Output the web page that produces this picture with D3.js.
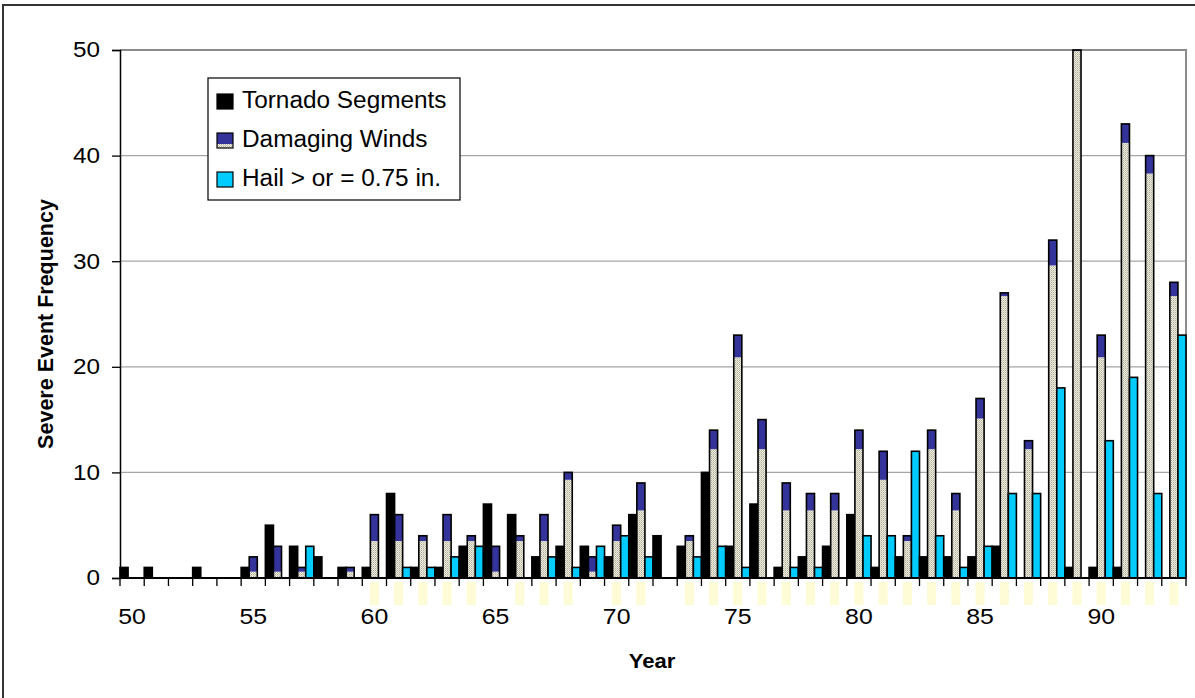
<!DOCTYPE html>
<html><head><meta charset="utf-8">
<script src="https://cdn.jsdelivr.net/npm/d3@7"></script>
<style>body{margin:0;background:#fff;overflow:hidden} text{font-family:"Liberation Sans",Arial,sans-serif;fill:#000}</style>
</head><body><svg id="c" width="1195" height="698"></svg>
<script>
const years = [1950,1951,1952,1953,1954,1955,1956,1957,1958,1959,
               1960,1961,1962,1963,1964,1965,1966,1967,1968,1969,
               1970,1971,1972,1973,1974,1975,1976,1977,1978,1979,
               1980,1981,1982,1983,1984,1985,1986,1987,1988,1989,
               1990,1991,1992,1993];
const tickYears = [1950,1955,1960,1965,1970,1975,1980,1985,1990];
const tickLabels = ["50","55","60","65","70","75","80","85","90"];
const tornado = [1,1,0,1,0,1,5,3,2,1, 1,8,1,1,3,7,6,2,3,3, 2,6,4,3,10,3,7,1,2,3, 6,1,2,2,2,2,3,0,0,1, 1,1,0,0];
const winds   = [0,0,0,0,0,2,3,1,0,1, 6,6,4,6,4,3,4,6,10,2, 5,9,0,4,14,23,15,9,8,8, 14,12,4,14,8,17,27,13,32,50, 23,43,40,28];
const hail    = [0,0,0,0,0,0,0,3,0,0, 0,1,1,2,3,0,0,2,1,3, 4,2,0,2,3,1,0,1,1,0, 4,4,12,4,1,3,8,8,18,0, 13,19,8,23];
const yTicks = [0,10,20,30,40,50];
const seriesNames = ["Tornado Segments","Damaging Winds","Hail > or = 0.75 in."];
const yTitle = "Severe Event Frequency";
const xTitle = "Year";

const C_T = "#000000", C_W = "#333399", C_H = "#00CCFF";
const SX = 1.13; // horizontal stretch of the original text rendering
const svg = d3.select("#c");

function stretch(sel, sx) {
  sel.each(function(){
    const t = d3.select(this);
    const xv = +(t.attr("x") || 0);
    t.attr("x", xv/sx).attr("transform", `scale(${sx},1)`);
  });
}

const defs = svg.append("defs");
const pat = defs.append("pattern").attr("id","dither").attr("patternUnits","userSpaceOnUse")
  .attr("width",2).attr("height",2);
pat.append("rect").attr("width",2).attr("height",2).attr("fill","#f2efd9");
pat.append("rect").attr("x",1).attr("y",0).attr("width",1).attr("height",1).attr("fill","#a9a9a9");
pat.append("rect").attr("x",0).attr("y",1).attr("width",1).attr("height",1).attr("fill","#c9c7b6");

// outer frame
svg.append("rect").attr("x",3).attr("y",5).attr("width",1210).attr("height",720)
  .attr("fill","none").attr("stroke","#333").attr("stroke-width",2);

const x = d3.scaleBand().domain(years).range([120,1186]).padding(0);
const y = d3.scaleLinear().domain([0,50]).range([578,50]);
const sub = d3.scaleBand().domain([0,1,2]).range([0,x.bandwidth()]);

// gridlines
svg.append("g").selectAll("line").data(yTicks.filter(t=>t>0 && t<50)).join("line")
  .attr("x1",120).attr("x2",1186).attr("y1",d=>y(d)).attr("y2",d=>y(d))
  .attr("stroke","#a6a6a6").attr("stroke-width",1.3);
svg.append("path").attr("d",`M120,${y(50)}H1186V${y(0)}`).attr("fill","none")
  .attr("stroke","#8c8c8c").attr("stroke-width",2);

// pale artefact rectangles under axis for wind bars
svg.append("g").selectAll("rect").data(years.filter((d,i)=>winds[i]>=4)).join("rect")
  .attr("x",d=>x(d)+sub(1)-0.5).attr("width",sub.bandwidth()+1)
  .attr("y",582).attr("height",23).attr("fill","#fdfcd6");

// bars
const g = svg.append("g");
years.forEach((yr,i)=>{
  const x0 = x(yr);
  if (tornado[i]>0) g.append("rect").attr("x",x0+sub(0)).attr("width",sub.bandwidth())
      .attr("y",y(tornado[i])).attr("height",y(0)-y(tornado[i])).attr("fill",C_T).attr("stroke","#000").attr("stroke-width",1.6);
  if (winds[i]>0) {
    const v = winds[i];
    const L = v>=0.6 ? Math.floor((v-0.6)/2.9)*2.9+0.6 : 0;
    const xs = x0+sub(1), w = sub.bandwidth();
    g.append("rect").attr("x",xs).attr("width",w).attr("y",y(L)).attr("height",y(0)-y(L)).attr("fill","url(#dither)");
    g.append("rect").attr("x",xs).attr("width",w).attr("y",y(v)).attr("height",y(L)-y(v)).attr("fill",C_W);
    g.append("rect").attr("x",xs).attr("width",w).attr("y",y(v)).attr("height",y(0)-y(v))
      .attr("fill","none").attr("stroke","#000").attr("stroke-width",1.6);
  }
  if (hail[i]>0) g.append("rect").attr("x",x0+sub(2)).attr("width",sub.bandwidth())
      .attr("y",y(hail[i])).attr("height",y(0)-y(hail[i])).attr("fill",C_H).attr("stroke","#000").attr("stroke-width",1.6);
});

// y axis
const ya = svg.append("g").attr("transform","translate(120,0)")
  .call(d3.axisLeft(y).tickValues(yTicks).tickSize(8).tickPadding(12));
ya.select(".domain").attr("stroke","#000").attr("stroke-width",1.5);
ya.selectAll(".tick line").attr("stroke","#000").attr("stroke-width",1.3);
ya.selectAll("text").attr("font-size",21.5).attr("font-family","Liberation Sans, Arial, sans-serif").call(stretch, SX);

// x axis line + boundary ticks
svg.append("line").attr("x1",120).attr("x2",1186).attr("y1",y(0)).attr("y2",y(0)).attr("stroke","#000").attr("stroke-width",2);
svg.append("g").selectAll("line").data(years.concat(["end"])).join("line")
  .attr("x1",d=>d==="end"?1186:x(d)).attr("x2",d=>d==="end"?1186:x(d))
  .attr("y1",y(0)).attr("y2",y(0)+8).attr("stroke","#000").attr("stroke-width",1.3);
const xa = svg.append("g").attr("transform",`translate(0,${y(0)})`)
  .call(d3.axisBottom(x).tickValues(tickYears).tickSize(0).tickPadding(30)
        .tickFormat((d)=>tickLabels[tickYears.indexOf(d)]));
xa.select(".domain").remove();
xa.selectAll("text").attr("font-size",22).attr("font-family","Liberation Sans, Arial, sans-serif").call(stretch, SX);

// titles
svg.append("text").attr("transform","translate(53,324) rotate(-90)").attr("text-anchor","middle")
  .attr("font-size",21.5).attr("font-weight","bold").text(yTitle);
svg.append("text").attr("x",652/1.05).attr("y",668).attr("text-anchor","middle")
  .attr("transform","scale(1.05,1)")
  .attr("font-size",21).attr("font-weight","bold").text(xTitle);

// legend
const lg = svg.append("g");
lg.append("rect").attr("x",208).attr("y",78).attr("width",252).attr("height",122)
  .attr("fill","#fff").attr("stroke","#000").attr("stroke-width",1.2);
const colors = [C_T, C_W, C_H];
const baselines = [108, 147, 186];
seriesNames.forEach((name,i)=>{
  const bl = baselines[i];
  const sx = 217, sy = bl-14, sw = 16, sh = 15;
  if (i===1) {
    lg.append("rect").attr("x",sx).attr("y",sy).attr("width",sw).attr("height",sh).attr("fill",C_W);
    lg.append("rect").attr("x",sx).attr("y",sy+sh-4).attr("width",sw).attr("height",4).attr("fill","url(#dither)");
    lg.append("rect").attr("x",sx).attr("y",sy).attr("width",sw).attr("height",sh).attr("fill","none").attr("stroke","#000").attr("stroke-width",1.2);
  } else {
    lg.append("rect").attr("x",sx).attr("y",sy).attr("width",sw).attr("height",sh).attr("fill",colors[i])
      .attr("stroke","#000").attr("stroke-width",1.2);
  }
  lg.append("text").attr("x",242).attr("y",bl).attr("font-size",23).text(name).call(stretch, 1.06);
});
</script></body></html>
